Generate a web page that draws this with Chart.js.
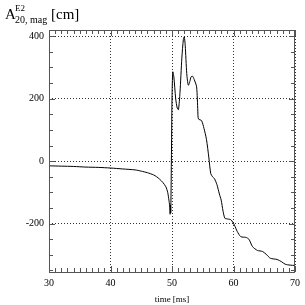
<!DOCTYPE html>
<html>
<head>
<meta charset="utf-8">
<script src="https://cdn.jsdelivr.net/npm/chart.js@4"></script>
<style>
  html, body { margin: 0; padding: 0; background: #fff; }
  #wrap { width: 305px; height: 305px; }
</style>
</head>
<body>
<div id="wrap"><canvas id="chart" width="305" height="305"></canvas></div>
<script>
// time axis [ms] and amplitude [cm]
const times = [30, 32, 34, 36, 38, 40, 42, 44, 45, 46, 47, 47.5, 48, 48.5, 49, 49.3, 49.5, 49.6, 49.7, 49.75, 49.8, 49.9,
  50.0, 50.13, 50.3, 50.6, 50.85, 51.05, 51.3, 51.6, 51.85, 52.0, 52.15, 52.4, 52.65, 52.9, 53.1, 53.35, 53.6, 54.0,
  54.2, 54.3, 54.8, 55.2, 55.6, 56.0, 56.3, 56.6, 56.9, 57.3, 57.7, 58.0, 58.3, 58.6, 59.0, 59.6, 60.15, 60.6, 61.2,
  62.0, 62.5, 63.1, 63.9, 64.7, 65.3, 66.0, 67.1, 67.8, 68.4, 69.2, 70];
const amplitude = [-15, -16, -17, -19, -20, -22, -25, -28, -32, -37, -44, -50, -58, -68, -82, -100, -125, -140, -170, -140, -165, 0,
  200, 286, 270, 200, 170, 165, 220, 330, 390, 398, 370, 280, 243, 255, 270, 272, 262, 238,
  160, 135, 130, 105, 70, 10, -40, -50, -56, -75, -105, -125, -160, -183, -185, -188, -205, -225, -242,
  -244, -250, -274, -286, -289, -298, -311, -315, -322, -330, -333, -334];
const xTicks = [30, 40, 50, 60, 70];
const yTicks = [-200, 0, 200, 400];

const points = times.map((t, i) => ({ x: t, y: amplitude[i] }));
const serif = "'Liberation Serif', 'DejaVu Serif', serif";

// minor ticks inside the frame, the title with sub/superscript
const framePlugin = {
  id: 'frame',
  afterDatasetsDraw(chart) {
    const { ctx, chartArea: a, scales: { x, y } } = chart;
    ctx.save();
    ctx.strokeStyle = '#555';
    ctx.lineWidth = 1;
    ctx.beginPath();
    for (let t = 30; t <= 70; t += 1) {
      const px = Math.round(x.getPixelForValue(t)) + 0.5;
      const len = t % 10 === 0 ? 6 : 4;
      ctx.moveTo(px, a.bottom); ctx.lineTo(px, a.bottom - len);
      ctx.moveTo(px, a.top); ctx.lineTo(px, a.top + len);
    }
    for (let v = -350; v <= 400; v += 50) {
      const py = Math.round(y.getPixelForValue(v)) + 0.5;
      const len = v % 200 === 0 ? 6 : 4;
      ctx.moveTo(a.left, py); ctx.lineTo(a.left + len, py);
      ctx.moveTo(a.right, py); ctx.lineTo(a.right - len, py);
    }
    ctx.stroke();
    ctx.strokeRect(a.left + 0.5, a.top + 0.5, a.right - a.left - 1, a.bottom - a.top);

    ctx.fillStyle = '#000';
    ctx.textBaseline = 'alphabetic';
    ctx.font = '15px ' + serif;
    ctx.fillText('A', 5, 19);
    ctx.font = '9px ' + serif;
    ctx.fillText('E2', 15, 11);
    ctx.font = '10px ' + serif;
    ctx.fillText('20, mag', 15, 23);
    ctx.font = '15px ' + serif;
    ctx.fillText('[cm]', 51, 19);
    ctx.restore();
  }
};

new Chart(document.getElementById('chart'), {
  type: 'scatter',
  data: {
    datasets: [{
      data: points,
      showLine: true,
      borderColor: '#000',
      borderWidth: 1,
      pointRadius: 0,
      tension: 0.25
    }]
  },
  options: {
    responsive: false,
    animation: false,
    layout: { padding: { top: 30, right: 7, left: 0, bottom: 0 } },
    plugins: { legend: { display: false }, tooltip: { enabled: false } },
    scales: {
      x: {
        type: 'linear',
        min: 30, max: 70,
        afterBuildTicks: s => { s.ticks = xTicks.map(v => ({ value: v })); },
        afterFit: s => { s.height = 33; },
        border: { display: false, dash: [1, 2] },
        grid: { color: '#333', lineWidth: 1, drawTicks: false },
        ticks: { color: '#000', font: { family: serif, size: 10 }, padding: 5, maxRotation: 0 },
        title: { display: true, text: 'time [ms]', color: '#000', font: { family: serif, size: 9 }, padding: { top: -4, bottom: 0 } }
      },
      y: {
        min: -355, max: 420,
        afterBuildTicks: s => { s.ticks = yTicks.map(v => ({ value: v })); },
        afterFit: s => { s.width = 49; },
        border: { display: false, dash: [1, 2] },
        grid: { color: '#333', lineWidth: 1, drawTicks: false },
        ticks: { color: '#000', font: { family: serif, size: 10 }, padding: 5 }
      }
    }
  },
  plugins: [framePlugin]
});
</script>
</body>
</html>
